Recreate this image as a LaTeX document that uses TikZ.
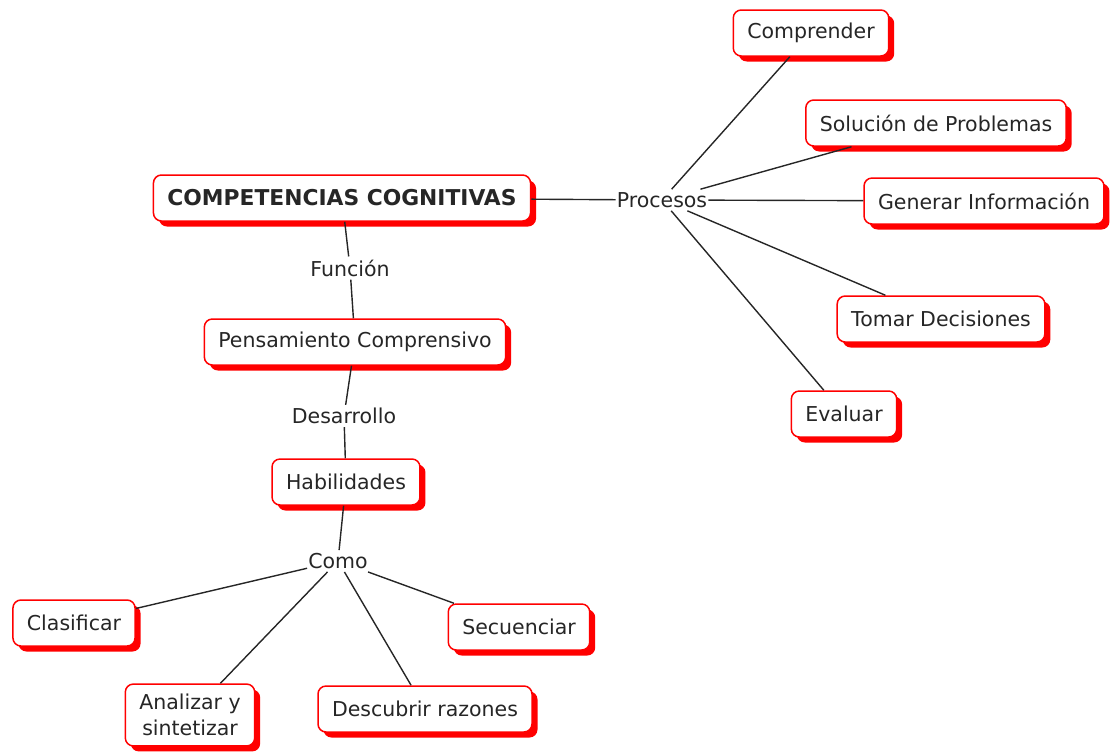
\documentclass[tikz,border=0pt]{standalone}
\usepackage{fontspec}
\setmainfont{DejaVu Sans}
\usetikzlibrary{shadows}
\begin{document}
\begin{tikzpicture}[x=1pt,y=-1pt,
  font=\fontsize{20.5}{26}\selectfont,
  concept/.style={draw=red, line width=1.5pt, fill=white, rounded corners=8pt,
    inner xsep=14pt, inner ysep=9pt, minimum height=46pt, text=black!85,
    general shadow={fill=red, shadow xshift=5.5pt, shadow yshift=-5.5pt}},
  linkword/.style={inner xsep=1pt, inner ysep=3pt, text=black!85},
  link/.style={line width=1.4pt, draw=black!85}]
\useasboundingbox (0,0) rectangle (1116,753);

% concepts
\node[concept, font=\fontsize{21.8}{26}\selectfont\bfseries] (cc) at (342,198) {COMPETENCIAS COGNITIVAS};
\node[concept] (comp) at (811,33) {Comprender};
\node[concept] (sol) at (936,123) {Solución de Problemas};
\node[concept] (gen) at (984,201) {Generar Información};
\node[concept] (tom) at (941,319) {Tomar Decisiones};
\node[concept] (eva) at (844,414) {Evaluar};
\node[concept] (pen) at (355,342) {Pensamiento Comprensivo};
\node[concept] (hab) at (346,482) {Habilidades};
\node[concept] (cla) at (74,623) {Clasificar};
\node[concept] (sec) at (519,627) {Secuenciar};
\node[concept, align=center, inner ysep=10pt] (ana) at (190,715) {Analizar y\\sintetizar};
\node[concept] (des) at (425,709) {Descubrir razones};

% linking phrases
\node[linkword] (pro) at (662,200) {Procesos};
\node[linkword] (fun) at (350,268) {Función};
\node[linkword] (dsa) at (344,416) {Desarrollo};
\node[linkword] (com) at (338,561) {Como};

% connections
\draw[link] (cc) -- (pro);
\draw[link] (pro) -- (comp);
\draw[link] (pro) -- (sol);
\draw[link] (pro) -- (gen);
\draw[link] (pro) -- (tom);
\draw[link] (pro) -- (eva);
\draw[link] (cc) -- (fun);
\draw[link] (fun) -- (pen);
\draw[link] (pen) -- (dsa);
\draw[link] (dsa) -- (hab);
\draw[link] (hab) -- (com);
\draw[link] (com) -- (cla);
\draw[link] (com) -- (ana);
\draw[link] (com) -- (des);
\draw[link] (com) -- (sec);
\end{tikzpicture}
\end{document}
